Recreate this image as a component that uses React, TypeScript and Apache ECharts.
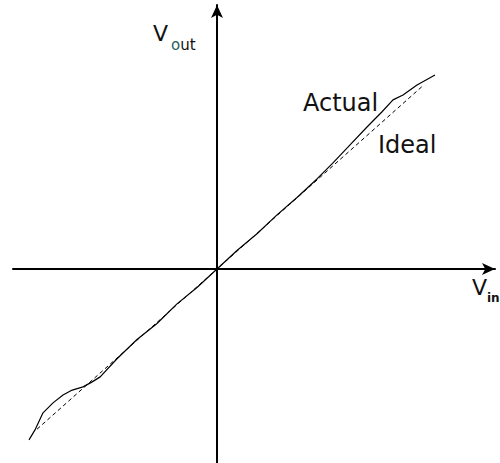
import React, { useEffect, useRef } from "react";
import * as echarts from "echarts";

// Transfer characteristic: Vin on x, Vout on y (ideal: Vout = Vin)
const idealVin = [-4.5, 5.15];
const idealVout = [-4.5, 5.15];

const actualVin = [
  -4.7, -4.55, -4.35, -4.1, -3.85, -3.62, -3.35, -3.12, -2.92, -2.5, -2.0,
  -1.5, -1.0, -0.5, 0, 0.5, 1.0, 1.5, 2.0, 2.5, 2.9, 3.32, 3.75, 4.12, 4.4,
  4.65, 5.0, 5.45,
];
const actualVout = [
  -4.8, -4.52, -4.04, -3.76, -3.54, -3.4, -3.31, -3.17, -3.03, -2.52, -1.98,
  -1.53, -0.98, -0.52, 0, 0.52, 0.99, 1.52, 2.01, 2.53, 2.98, 3.48, 3.99,
  4.41, 4.75, 4.89, 5.17, 5.45,
];

const xMin = -5.1;
const xMax = 6.95;
const yMin = -5.449;
const yMax = 7.416;

export default function App() {
  const ref = useRef<HTMLDivElement>(null);
  useEffect(() => {
    if (!ref.current) return;
    const chart = echarts.init(ref.current, undefined, { renderer: "svg" });
    const font = "DejaVu Sans";
    chart.setOption({
      animation: false,
      backgroundColor: "#ffffff",
      grid: { left: 13, right: 5, top: 5, bottom: 0, containLabel: false },
      xAxis: {
        type: "value",
        min: xMin,
        max: xMax,
        axisLine: {
          onZero: true,
          symbol: ["none", "arrow"],
          symbolSize: [9, 13],
          lineStyle: { color: "#000", width: 2 },
        },
        axisTick: { show: false },
        axisLabel: { show: false },
        splitLine: { show: false },
      },
      yAxis: {
        type: "value",
        min: yMin,
        max: yMax,
        axisLine: {
          onZero: true,
          symbol: ["none", "arrow"],
          symbolSize: [9, 13],
          lineStyle: { color: "#000", width: 2 },
        },
        axisTick: { show: false },
        axisLabel: { show: false },
        splitLine: { show: false },
      },
      series: [
        {
          name: "Ideal",
          type: "line",
          showSymbol: false,
          data: idealVin.map((v, i) => [v, idealVout[i]]),
          lineStyle: { color: "#000", width: 1, type: [4, 3] },
          z: 3,
        },
        {
          name: "Actual",
          type: "line",
          showSymbol: false,
          data: actualVin.map((v, i) => [v, actualVout[i]]),
          lineStyle: { color: "#000", width: 1.2 },
          z: 4,
        },
      ],
      graphic: [
        {
          type: "text",
          x: 153,
          y: 33,
          style: { text: "V", font: `22px '${font}'`, fill: "#111", verticalAlign: "middle" },
        },
        {
          type: "text",
          x: 171,
          y: 45,
          style: {
            text: "{o|o}ut",
            font: `15px '${font}'`,
            fill: "#111",
            verticalAlign: "middle",
            rich: { o: { fill: "#1f5f5f", font: `15px '${font}'` } },
          },
        },
        {
          type: "text",
          x: 472,
          y: 287,
          style: { text: "V", font: `22px '${font}'`, fill: "#111", verticalAlign: "middle" },
        },
        {
          type: "text",
          x: 487,
          y: 298,
          style: { text: "in", font: `bold 12px '${font}'`, fill: "#111", verticalAlign: "middle" },
        },
        {
          type: "text",
          x: 303,
          y: 103,
          style: { text: "Actual", font: `24px '${font}'`, fill: "#111", verticalAlign: "middle" },
        },
        {
          type: "text",
          x: 378,
          y: 145,
          style: { text: "Ideal", font: `24px '${font}'`, fill: "#111", verticalAlign: "middle" },
        },
      ],
    });
    return () => chart.dispose();
  }, []);
  return (
    <div
      ref={ref}
      style={{ position: "absolute", left: 0, top: 0, width: 500, height: 463 }}
    />
  );
}
